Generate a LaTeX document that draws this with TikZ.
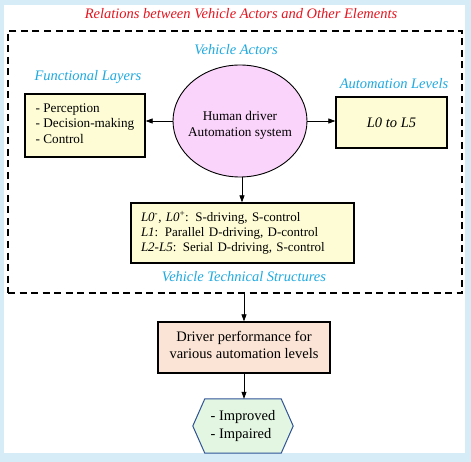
\documentclass[tikz,border=0pt]{standalone}
\usepackage{fontspec}
\setmainfont{Liberation Serif}
\usetikzlibrary{shapes.geometric,arrows.meta}
\definecolor{bgblue}{RGB}{214,236,246}
\definecolor{cream}{RGB}{253,252,212}
\definecolor{pinkell}{RGB}{250,212,250}
\definecolor{peach}{RGB}{251,228,213}
\definecolor{hexgreen}{RGB}{226,246,226}
\definecolor{hexblue}{RGB}{47,84,150}
\definecolor{cyanlbl}{RGB}{30,170,225}
\definecolor{redlbl}{RGB}{230,20,30}
\tikzset{
  txt/.style={font=\fontsize{13.2}{15.3}\selectfont},
  bigtxt/.style={font=\fontsize{14.5}{17.5}\selectfont},
  lbl/.style={font=\fontsize{14.5}{17.5}\selectfont\itshape, text=cyanlbl, inner sep=0pt},
  boxa/.style={draw, line width=1.3pt, fill=cream, txt, inner sep=0pt},
  arr/.style={-{Triangle[length=7pt,width=5pt]}, line width=0.7pt},
}
\begin{document}
\begin{tikzpicture}[x=1pt,y=-1pt]
\fill[bgblue] (0,0) rectangle (471,462);
\fill[white] (4,5) rectangle (465,453);
\useasboundingbox (0,0) rectangle (471,462);

\node[font=\fontsize{14.5}{17.5}\selectfont\itshape, text=redlbl, inner sep=0pt] (title) at (241,14) {Relations between Vehicle Actors and Other Elements};

\node[draw, dashed, dash pattern=on 7pt off 4.5pt, line width=1.6pt, minimum width=454pt, minimum height=262pt, inner sep=0pt] (frame) at (235,162) {};

\node[lbl] (va) at (236,50) {Vehicle Actors};
\node[lbl] (fl) at (88,77) {Functional Layers};
\node[lbl] (al) at (394,84) {Automation Levels};
\node[lbl] (vts) at (244,277) {Vehicle Technical Structures};

\node[boxa, minimum width=120pt, minimum height=63pt] (lbox) at (85,125.5) {};
\node[txt, align=left, inner sep=0pt] (lboxtxt) at ([yshift=2pt]lbox.center) {- Perception\\- Decision-making\\- Control};
\node[ellipse, draw, line width=0.9pt, fill=pinkell, minimum width=134pt, minimum height=112pt, inner sep=0pt] (ell) at (240,121) {};
\node[font=\fontsize{13.3}{16}\selectfont, align=center, inner sep=0pt] (elltxt) at ([yshift=-4.5pt]ell.center) {Human driver\\Automation system};
\node[boxa, minimum width=111pt, minimum height=51pt, font=\fontsize{14.5}{17.5}\selectfont\itshape] (rbox) at (391.5,122.5) {L0 to L5};
\node[boxa, font=\fontsize{13}{15.3}\selectfont, minimum width=223pt, minimum height=60pt, text width=203pt, align=left] (mbox) at (242.5,233) {\textit{L0}\textsuperscript{-}, \textit{L0}\textsuperscript{+}: S-driving, S-control\\\textit{L1}: Parallel D-driving, D-control\\\textit{L2-L5}: Serial D-driving, S-control};
\node[boxa, fill=peach, minimum width=172pt, minimum height=51pt] (dbox) at (244,347.5) {};
\node[bigtxt, align=center, inner sep=0pt] (dboxtxt) at ([yshift=2.5pt]dbox.center) {Driver performance for\\various automation levels};

\node[inner sep=0pt, minimum width=100pt, minimum height=54pt] (hex) at (243,426) {};
\draw[hexblue, line width=1pt, fill=hexgreen] (hex.west) -- ([xshift=12pt]hex.north west) -- ([xshift=-12pt]hex.north east) -- (hex.east) -- ([xshift=-12pt]hex.south east) -- ([xshift=12pt]hex.south west) -- cycle;
\node[bigtxt, align=left, inner sep=0pt] (hextxt) at (hex.center) {- Improved\\- Impaired};

\draw[arr] (ell.west) -- (lbox.east |- ell.west);
\draw[arr] (ell.east) -- (rbox.west |- ell.east);
\draw[arr] ([xshift=2pt]ell.south) -- ([xshift=2pt]ell.south |- mbox.north);
\draw[arr] (dbox.north |- frame.south) -- (dbox.north);
\draw[arr] (dbox.south) -- (dbox.south |- hex.north);
\end{tikzpicture}
\end{document}
